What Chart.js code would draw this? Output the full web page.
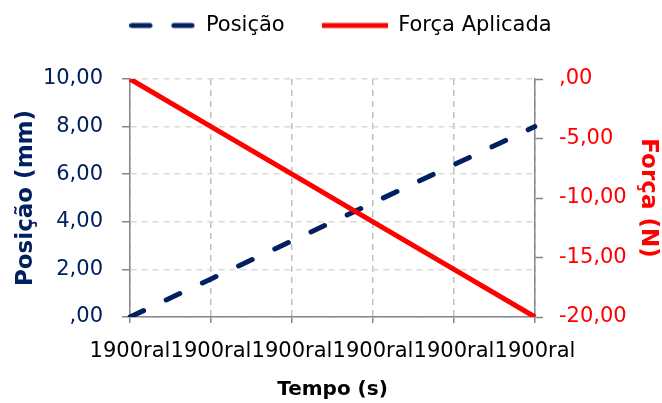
<!DOCTYPE html>
<html>
<head>
<meta charset="utf-8">
<script src="https://cdn.jsdelivr.net/npm/chart.js@4/dist/chart.umd.min.js"></script>
<style>
  html, body { margin: 0; padding: 0; background: #ffffff; }
  #wrap { width: 662px; height: 403px; }
</style>
</head>
<body>
<div id="wrap"><canvas id="chart" width="662" height="403"></canvas></div>
<script>
// Time categories (labels as exported from the spreadsheet)
const categories = ['1900ral', '1900ral', '1900ral', '1900ral', '1900ral', '1900ral'];

// Series values
const posicao = [0, 1.6, 3.2, 4.8, 6.4, 8.0];        // mm
const forca = [0, -4, -8, -12, -16, -20];            // N

// Tick labels, in Portuguese number format
const posicaoTicks = [',00', '2,00', '4,00', '6,00', '8,00', '10,00'];   // 0..10 step 2
const forcaTicks = ['-20,00', '-15,00', '-10,00', '-5,00', ',00'];       // -20..0 step 5

const FONT = 'DejaVu Sans';
const NAVY = '#002060';
const RED = '#FF0000';
const AXIS = '#868686';
const SAMPLE_W = 66;

// Small line samples used as legend symbols
function lineSample(color, dash, cap) {
  const c = document.createElement('canvas');
  c.width = SAMPLE_W;
  c.height = 10;
  const g = c.getContext('2d');
  g.strokeStyle = color;
  g.lineWidth = 5;
  g.lineCap = cap;
  g.setLineDash(dash);
  g.beginPath();
  const inset = cap === 'round' ? 2.5 : 0;
  g.moveTo(inset, 5);
  g.lineTo(SAMPLE_W - inset, 5);
  g.stroke();
  return c;
}

// Reserve a fixed band for the legend above the plot area
const legendBand = {
  id: 'legendBand',
  beforeLayout(chart) {
    const lg = chart.legend;
    if (lg && !lg._bandFixed) {
      const fit = lg.fit.bind(lg);
      lg.fit = function () { fit(); this.height = 101; };
      lg._bandFixed = true;
    }
  }
};

new Chart(document.getElementById('chart'), {
  type: 'line',
  data: {
    labels: categories,
    datasets: [
      {
        label: 'Posição',
        data: posicao,
        yAxisID: 'yPos',
        borderColor: NAVY,
        backgroundColor: NAVY,
        borderWidth: 5,
        borderDash: [15, 25],
        borderCapStyle: 'round',
        pointRadius: 0,
        pointStyle: lineSample(NAVY, [18, 24], 'round'),
        tension: 0,
        fill: false,
        order: 1
      },
      {
        label: 'Força Aplicada',
        data: forca,
        yAxisID: 'yForca',
        borderColor: RED,
        backgroundColor: RED,
        borderWidth: 5,
        borderCapStyle: 'butt',
        pointRadius: 0,
        pointStyle: lineSample(RED, [], 'butt'),
        tension: 0,
        fill: false,
        order: 0
      }
    ]
  },
  options: {
    responsive: false,
    devicePixelRatio: 1,
    animation: false,
    layout: { padding: { top: -22, left: 19, right: 0, bottom: 0 } },
    plugins: {
      tooltip: { enabled: false },
      legend: {
        display: true,
        position: 'top',
        labels: {
          usePointStyle: true,
          pointStyleWidth: SAMPLE_W,
          padding: 37,
          color: '#000000',
          font: { family: FONT, size: 21 },
          sort: (a, b) => a.datasetIndex - b.datasetIndex
        }
      }
    },
    scales: {
      x: {
        type: 'category',
        offset: false,
        ticks: {
          color: '#000000',
          font: { family: FONT, size: 21 },
          autoSkip: false,
          maxRotation: 0,
          minRotation: 0,
          padding: 16
        },
        grid: {
          color: '#bfbfbf',
          lineWidth: 1.5,
          tickLength: 6,
          tickColor: AXIS,
          tickWidth: 1.5,
          tickBorderDash: []
        },
        border: { color: AXIS, width: 1.5, dash: [6, 5] },
        title: {
          display: true,
          text: 'Tempo (s)',
          color: '#000000',
          font: { family: FONT, size: 20, weight: 'bold' },
          padding: { top: 0, bottom: 1 }
        },
        afterFit(scale) { scale.height = 86; }
      },
      yPos: {
        type: 'linear',
        position: 'left',
        min: 0,
        max: 10,
        ticks: {
          stepSize: 2,
          color: NAVY,
          font: { family: FONT, size: 21 },
          padding: 19,
          callback: (v) => posicaoTicks[Math.round(v / 2)]
        },
        grid: {
          color: '#d9d9d9',
          lineWidth: 1.5,
          tickLength: 8,
          tickColor: AXIS,
          tickWidth: 1.5,
          tickBorderDash: []
        },
        border: { color: AXIS, width: 1.5, dash: [6, 5] },
        title: {
          display: true,
          text: 'Posição (mm)',
          color: NAVY,
          font: { family: FONT, size: 23, weight: 'bold' },
          padding: { top: -7, bottom: 0 }
        },
        afterFit(scale) { scale.width = 111; }
      },
      yForca: {
        type: 'linear',
        position: 'right',
        min: -20,
        max: 0,
        ticks: {
          stepSize: 5,
          color: RED,
          font: { family: FONT, size: 21 },
          padding: 16,
          callback: (v) => forcaTicks[Math.round((v + 20) / 5)]
        },
        grid: {
          drawOnChartArea: false,
          tickLength: 8,
          tickColor: AXIS,
          tickWidth: 1.5,
          tickBorderDash: []
        },
        border: { color: AXIS, width: 1.5 },
        title: {
          display: true,
          text: 'Força (N)',
          color: RED,
          font: { family: FONT, size: 23, weight: 'bold' },
          padding: { top: 0, bottom: 0 }
        },
        afterFit(scale) { scale.width = 127; }
      }
    }
  },
  plugins: [legendBand]
});
</script>
</body>
</html>
